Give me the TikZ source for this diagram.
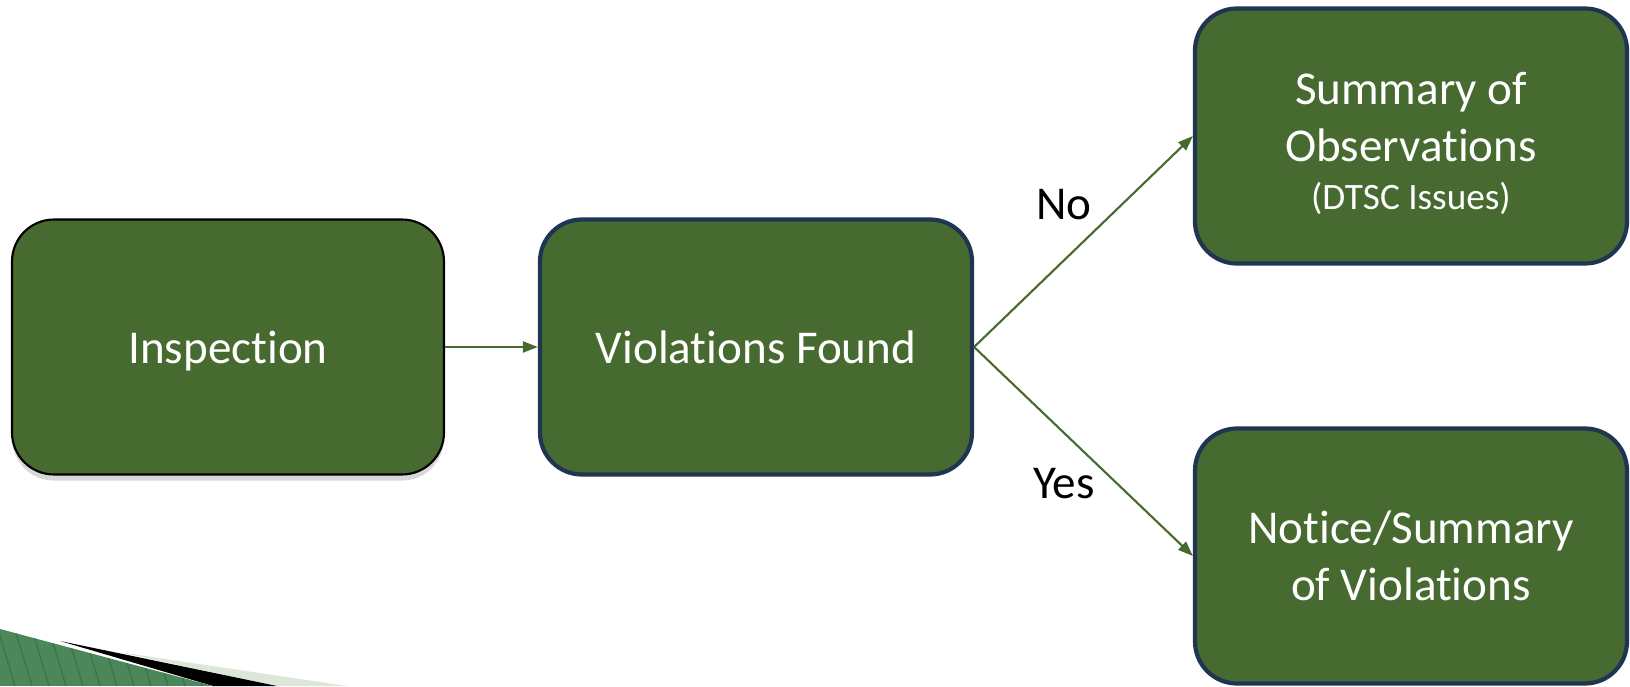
\documentclass[tikz,border=0pt]{standalone}
\usepackage{fontspec}
\setmainfont{Carlito}[Ligatures={NoCommon, NoContextual, NoRare}]
\usetikzlibrary{arrows.meta, shadows}
\definecolor{BoxGreen}{HTML}{466A2F}
\definecolor{BoxNavy}{HTML}{1F3552}
\definecolor{WedgeGreen}{HTML}{4C875A}
\definecolor{WedgeStripe}{HTML}{3F744A}
\definecolor{WedgeLight}{HTML}{DCE7DA}
\tikzset{
    stepbox/.style={draw=BoxNavy, line width=1.2pt, fill=BoxGreen, rounded corners=0.42cm,
        text=white, align=center, inner sep=0pt, minimum width=4.32cm, minimum height=2.55cm,
        text depth=0pt, font=\fontsize{13.4}{16.2}\selectfont},
    flow/.style={draw=BoxGreen, line width=0.6pt, -{Triangle[length=0.15cm, width=0.11cm]}},
    answer/.style={text=black, inner sep=0pt, font=\fontsize{13.4}{16.2}\selectfont}
}

\begin{document}
\begin{tikzpicture}
    % =========================================
    % 1. 背景
    % =========================================
    \useasboundingbox (0,0) rectangle (16.30, 6.86);
    \fill[white] (0,0) rectangle (16.30, 6.86);

    % 左下角装饰
    \fill[WedgeLight] (1.18, 0.34) -- (3.47, 0) -- (2.77, 0) -- cycle;
    \fill[black] (0.60, 0.45) -- (2.77, 0) -- (2.13, 0) -- cycle;
    \begin{scope}
        \clip (0, 0.57) -- (2.13, 0) -- (0, 0) -- cycle;
        \fill[WedgeGreen] (0, 0) rectangle (2.3, 0.6);
        \foreach \s in {-0.2, -0.03, ..., 2.3} {
            \draw[WedgeStripe, line width=0.4pt] (\s, 0.6) -- (\s+0.18, 0);
        }
    \end{scope}

    % =========================================
    % 2. 方框
    % =========================================
    \node[stepbox, draw=black, line width=0.6pt,
        drop shadow={shadow xshift=0cm, shadow yshift=-0.06cm, opacity=0.3}]
        (insp) at (2.28, 3.39) {Inspection};
    \node[stepbox] (viol) at (7.56, 3.39) {Violations Found};
    \node[stepbox] (obs) at (14.11, 5.50)
        {\rule{0pt}{11.8pt}Summary of\\Observations\\[-2.5pt]{\fontsize{10.6}{12.7}\selectfont (DTSC Issues)}};
    \node[stepbox] (notice) at (14.11, 1.30) {Notice/Summary\\of Violations};

    % =========================================
    % 3. 连线
    % =========================================
    \draw[flow] (insp.east) -- (viol.west);
    \draw[flow] (viol.east) -- (obs.west);
    \draw[flow] (viol.east) -- (notice.west);

    % 标签
    \node[answer] (lblNo) at (10.64, 4.81) {No};
    \node[answer] (lblYes) at (10.64, 2.02) {Yes};

\end{tikzpicture}
\end{document}
